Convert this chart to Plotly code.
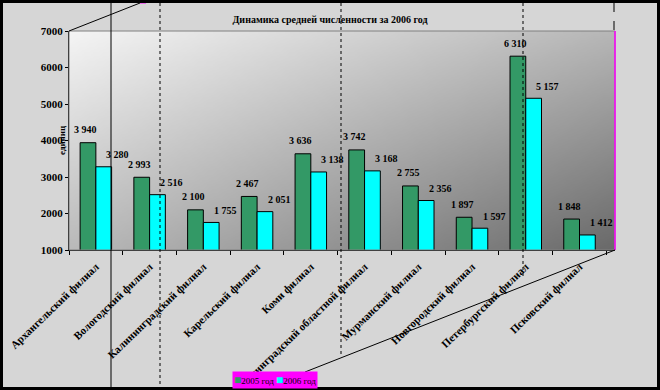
import base64, struct, zlib
import plotly.graph_objects as go

categories = ["Архангельский филиал", "Вологодский филиал", "Калининградский филиал",
              "Карельский филиал", "Коми филиал", "Ленинградский областной филиал",
              "Мурманский филиал", "Новгородский филиал", "Петербургский филиал",
              "Псковский филиал"]
values_2005 = [3940, 2993, 2100, 2467, 3636, 3742, 2755, 1897, 6310, 1848]
values_2006 = [3280, 2516, 1755, 2051, 3138, 3168, 2356, 1597, 5157, 1412]
series_names = ["2005 год", "2006 год"]
title_text = "Динамика средней численности за 2006 год"
y_title = "единиц"

GREEN = "#339966"
CYAN = "#00FFFF"
SERIF = "Liberation Serif"

W, H = 660, 390
L, R, T, B = 69, 45, 31, 140
PW, PH = W - L - R, H - T - B


def px(x):
    return (x - L) / PW


def py(y):
    return (H - B - y) / PH


def fmt(v):
    return f"{v:,}".replace(",", " ")


# gradient image for plot area (light top-left -> dark bottom-right)
def gradient_png(w, h, tl, tr, bl, br):
    raw = b""
    for j in range(h):
        v = j / (h - 1)
        row = bytearray([0])
        for i in range(w):
            u = i / (w - 1)
            c = (tl * (1 - u) * (1 - v) + tr * u * (1 - v) + bl * (1 - u) * v + br * u * v)
            row.append(int(round(c)))
        raw += bytes(row)

    def chunk(t, d):
        c = struct.pack(">I", len(d)) + t + d
        return c + struct.pack(">I", zlib.crc32(t + d) & 0xFFFFFFFF)

    data = b"\x89PNG\r\n\x1a\n" + chunk(b"IHDR", struct.pack(">IIBBBBB", w, h, 8, 0, 0, 0, 0))
    data += chunk(b"IDAT", zlib.compress(raw)) + chunk(b"IEND", b"")
    return "data:image/png;base64," + base64.b64encode(data).decode()


grad = gradient_png(120, 48, 244, 182, 186, 106)

fig = go.Figure()
fig.add_trace(go.Bar(x=categories, y=values_2005, name=series_names[0],
                     marker=dict(color=GREEN, line=dict(color="black", width=1))))
fig.add_trace(go.Bar(x=categories, y=values_2006, name=series_names[1],
                     marker=dict(color=CYAN, line=dict(color="black", width=1))))

annotations = []
lab_font = dict(family=SERIF, size=10, color="black", weight="bold")
for c, v in zip(categories, values_2005):
    annotations.append(dict(x=c, y=v, xref="x", yref="y", text=fmt(v), showarrow=False,
                            xshift=-10, yshift=13, yanchor="middle", font=lab_font))
for c, v in zip(categories, values_2006):
    annotations.append(dict(x=c, y=v, xref="x", yref="y", text=fmt(v), showarrow=False,
                            xshift=22, yshift=12, yanchor="middle", font=lab_font))

# y axis title
annotations.append(dict(x=px(55), y=py(140), xref="paper", yref="paper", text=y_title,
                        textangle=-90, showarrow=False,
                        font=dict(family=SERIF, size=9, color="black", weight="bold")))

# legend box
legend_text = (f"<span style='color:{GREEN};font-size:12px'>■</span>{series_names[0]} "
               f"<span style='color:{CYAN};font-size:12px'>■</span>{series_names[1]}")
annotations.append(dict(x=px(275), y=py(380), xref="paper", yref="paper", text=legend_text,
                        showarrow=False, bgcolor="#FF00FF", borderpad=1,
                        xanchor="center", yanchor="middle",
                        font=dict(family=SERIF, size=9, color="black")))

shapes = []
# plot area border
shapes.append(dict(type="rect", xref="paper", yref="paper", x0=0, x1=1, y0=0, y1=1,
                   line=dict(color="#808080", width=1), layer="above"))
shapes.append(dict(type="line", xref="paper", yref="paper", x0=1, x1=1, y0=0, y1=1,
                   line=dict(color="#FF00FF", width=1.5), layer="above"))
# stray drawing lines from the original
shapes.append(dict(type="line", xref="paper", yref="paper", x0=px(111), x1=px(111),
                   y0=py(3), y1=py(387), line=dict(color="black", width=1), layer="above"))
for xx, y_end in [(160, 387), (341, 355), (523, 278)]:
    shapes.append(dict(type="line", xref="paper", yref="paper", x0=px(xx), x1=px(xx),
                       y0=py(3), y1=py(y_end), line=dict(color="black", width=1, dash="dot"),
                       layer="above"))
shapes.append(dict(type="line", xref="paper", yref="paper", x0=px(614), x1=px(614),
                   y0=py(3), y1=py(31), line=dict(color="black", width=1, dash="dash")))
shapes.append(dict(type="line", xref="paper", yref="paper", x0=px(69), x1=px(140),
                   y0=py(31), y1=py(3), line=dict(color="black", width=1)))
shapes.append(dict(type="line", xref="paper", yref="paper", x0=px(140), x1=px(146),
                   y0=py(2), y1=py(2), line=dict(color="#FF00FF", width=3)))
shapes.append(dict(type="line", xref="paper", yref="paper", x0=px(305), x1=px(615),
                   y0=py(372), y1=py(250), line=dict(color="black", width=1)))
# outer black frame
shapes.append(dict(type="rect", xref="paper", yref="paper", x0=px(0), x1=px(W),
                   y0=py(H), y1=py(0), line=dict(color="black", width=6)))

fig.update_layout(
    width=W, height=H,
    margin=dict(l=L, r=R, t=T, b=B, autoexpand=False),
    paper_bgcolor="#d6d6d6",
    plot_bgcolor="rgba(0,0,0,0)",
    barmode="group", bargap=0.414, bargroupgap=0,
    showlegend=False,
    title=dict(text=title_text, x=0.5, xref="container", xanchor="center",
               y=1 - 19 / H, yref="container", yanchor="middle",
               font=dict(family=SERIF, size=10, color="black", weight="bold")),
    images=[dict(source=grad, xref="paper", yref="paper", x=0, y=1, sizex=1, sizey=1,
                 xanchor="left", yanchor="top", sizing="stretch", layer="below")],
    annotations=annotations,
    shapes=shapes,
    xaxis=dict(type="category", showline=True, linecolor="black", linewidth=1,
               ticks="outside", tickson="boundaries", ticklen=4, tickcolor="black",
               tickangle=-44, showgrid=False, automargin=False, ticklabelstandoff=5,
               tickfont=dict(family=SERIF, size=11, color="black", weight="bold")),
    yaxis=dict(range=[1000, 7000], dtick=1000, showline=True, linecolor="black",
               linewidth=1, ticks="outside", ticklen=3, tickcolor="black",
               showgrid=False, zeroline=False, automargin=False,
               tickfont=dict(family=SERIF, size=11, color="black", weight="bold")),
)

fig.write_html("out.html", config={"displayModeBar": False},
               post_script="document.body.style.margin='0';document.body.style.overflow='hidden';")
